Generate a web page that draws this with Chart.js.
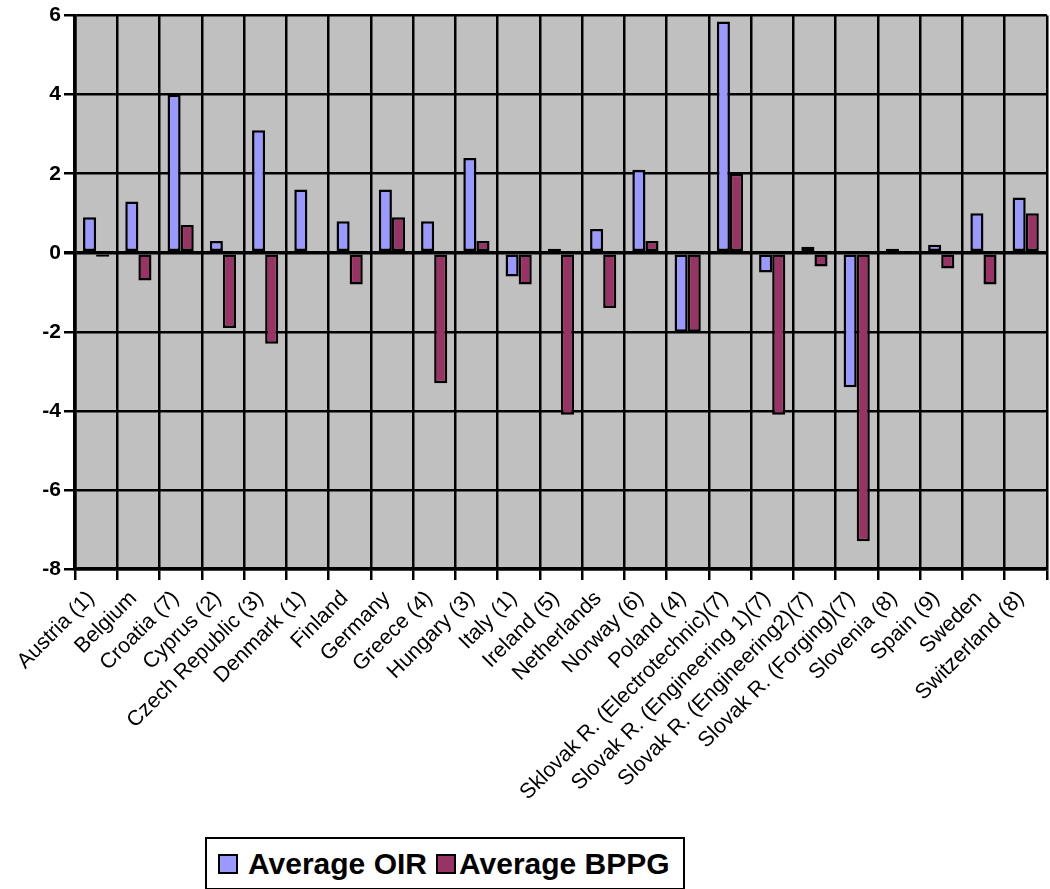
<!DOCTYPE html>
<html>
<head>
<meta charset="utf-8">
<script src="https://cdn.jsdelivr.net/npm/chart.js@4"></script>
<style>
  html, body { margin: 0; padding: 0; background: #fff; overflow: hidden; }
  #wrap { position: relative; width: 1050px; height: 889px; }
  #legend {
    position: absolute; left: 205px; top: 837px; width: 476px; height: 49px;
    border: 2px solid #000; background: #fff;
    display: flex; align-items: center;
    font-family: "Liberation Sans", Arial, sans-serif; font-weight: bold; font-size: 30px; color: #000;
    white-space: nowrap;
  }
  .sw { display: inline-block; width: 16px; height: 16px; border: 2px solid #000; }
</style>
</head>
<body>
<div id="wrap">
  <canvas id="myChart" width="1050" height="889"></canvas>
  <div id="legend">
    <span class="sw" style="background:#9999FF; margin:0 10px 0 11px"></span>Average OIR
    <span class="sw" style="background:#993366; margin:0 3px 0 9px"></span>Average BPPG
  </div>
</div>
<script>
const categories = [
  'Austria (1)', 'Belgium', 'Croatia (7)', 'Cyprus (2)', 'Czech Republic (3)', 'Denmark (1)',
  'Finland', 'Germany', 'Greece (4)', 'Hungary (3)', 'Italy (1)', 'Ireland (5)', 'Netherlands',
  'Norway (6)', 'Poland (4)', 'Sklovak R. (Electrotechnic)(7)', 'Slovak R. (Engineering 1)(7)',
  'Slovak R. (Engineering2)(7)', 'Slovak R. (Forging)(7)', 'Slovenia (8)', 'Spain (9)', 'Sweden',
  'Switzerland (8)'
];
const averageOIR = [0.9, 1.3, 4.0, 0.3, 3.1, 1.6, 0.8, 1.6, 0.8, 2.4, -0.6, 0.1, 0.6, 2.1, -2.0, 5.85, -0.5, 0.15, -3.4, 0.1, 0.2, 1.0, 1.4];
const averageBPPG = [-0.1, -0.7, 0.7, -1.9, -2.3, 0, -0.8, 0.9, -3.3, 0.3, -0.8, -4.1, -1.4, 0.3, -2.0, 2.0, -4.1, -0.35, -7.3, 0, -0.4, -0.8, 1.0];
const yMin = -8, yMax = 6, yStep = 2;

const font = '"Liberation Sans", Arial, sans-serif';

// gray plot background
const plotBg = {
  id: 'plotBg',
  beforeDraw(chart) {
    const { ctx, chartArea: a } = chart;
    ctx.save();
    ctx.fillStyle = '#C0C0C0';
    ctx.fillRect(a.left, a.top, a.right - a.left, a.bottom - a.top);
    ctx.strokeStyle = '#808080';
    ctx.lineWidth = 1;
    ctx.strokeRect(a.left, a.top - 0.5, a.right - a.left, a.bottom - a.top);
    ctx.restore();
  }
};

new Chart(document.getElementById('myChart'), {
  type: 'bar',
  data: {
    labels: categories,
    datasets: [
      {
        label: 'Average OIR', data: averageOIR,
        backgroundColor: '#9999FF', borderColor: '#000', borderWidth: 2.5, borderSkipped: false,
        categoryPercentage: 0.62, barPercentage: 1
      },
      {
        label: 'Average BPPG', data: averageBPPG,
        backgroundColor: '#993366', borderColor: '#000', borderWidth: 2.5, borderSkipped: false,
        categoryPercentage: 0.62, barPercentage: 1
      }
    ]
  },
  options: {
    responsive: false,
    animation: false,
    layout: { padding: { top: 15, right: 2, left: 0, bottom: 0 } },
    plugins: { legend: { display: false }, tooltip: { enabled: false } },
    scales: {
      x: {
        grid: { color: '#000', lineWidth: 2.5, offset: true, tickLength: 11 },
        border: { color: '#000', width: 3.5 },
        ticks: {
          color: '#000', font: { family: font, size: 21.5 },
          minRotation: 45, maxRotation: 45, autoSkip: false, padding: 6, labelOffset: -5
        },
        afterFit: s => { s.height = 320; }
      },
      y: {
        min: yMin, max: yMax,
        ticks: { stepSize: yStep, color: '#000', font: { family: font, size: 21, weight: 'bold' }, padding: 3 },
        grid: { color: '#000', lineWidth: c => (c.tick && c.tick.value === 0 ? 3.5 : 2.5), tickLength: 11 },
        border: { color: '#000', width: 3.5 },
        afterFit: s => { s.width = 75; }
      }
    }
  },
  plugins: [plotBg]
});
</script>
</body>
</html>
